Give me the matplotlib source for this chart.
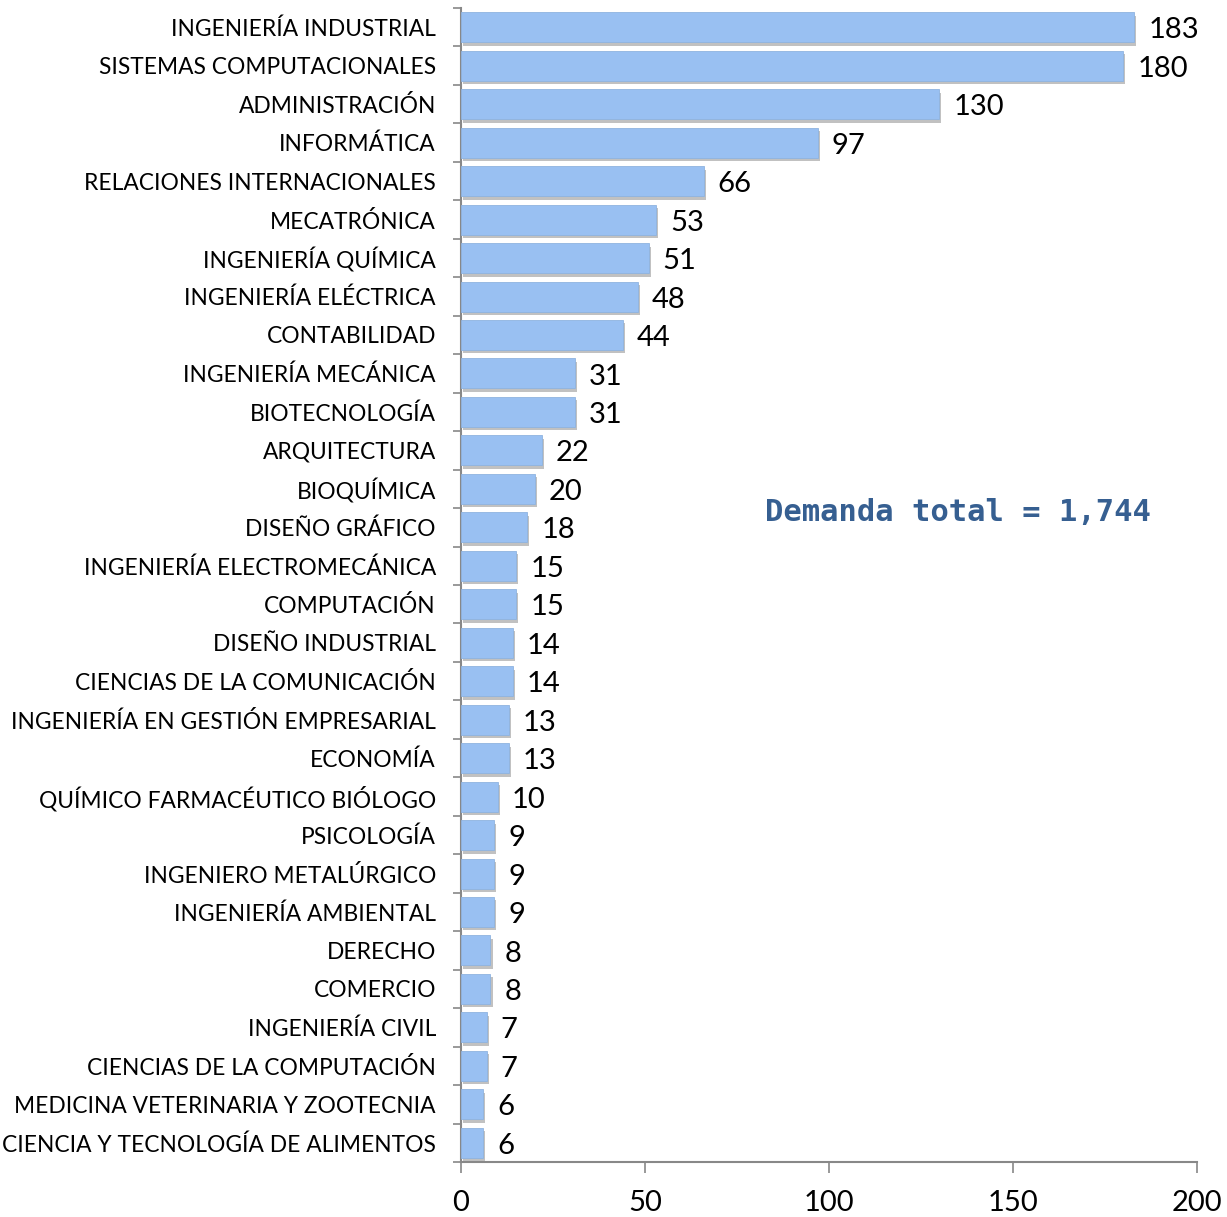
import numpy as np
import matplotlib.pyplot as plt
import matplotlib.patheffects as pe

carreras = [
    "INGENIERÍA INDUSTRIAL", "SISTEMAS COMPUTACIONALES", "ADMINISTRACIÓN",
    "INFORMÁTICA", "RELACIONES INTERNACIONALES", "MECATRÓNICA",
    "INGENIERÍA QUÍMICA", "INGENIERÍA ELÉCTRICA", "CONTABILIDAD",
    "INGENIERÍA MECÁNICA", "BIOTECNOLOGÍA", "ARQUITECTURA", "BIOQUÍMICA",
    "DISEÑO GRÁFICO", "INGENIERÍA ELECTROMECÁNICA", "COMPUTACIÓN",
    "DISEÑO INDUSTRIAL", "CIENCIAS DE LA COMUNICACIÓN",
    "INGENIERÍA EN GESTIÓN EMPRESARIAL", "ECONOMÍA",
    "QUÍMICO FARMACÉUTICO BIÓLOGO", "PSICOLOGÍA", "INGENIERO METALÚRGICO",
    "INGENIERÍA AMBIENTAL", "DERECHO", "COMERCIO", "INGENIERÍA CIVIL",
    "CIENCIAS DE LA COMPUTACIÓN", "MEDICINA VETERINARIA Y ZOOTECNIA",
    "CIENCIA Y TECNOLOGÍA DE ALIMENTOS",
]
demanda = [183, 180, 130, 97, 66, 53, 51, 48, 44, 31, 31, 22, 20, 18, 15,
           15, 14, 14, 13, 13, 10, 9, 9, 9, 8, 8, 7, 7, 6, 6]
x_ticks = [0, 50, 100, 150, 200]
total_txt = "Demanda total = 1,744"

plt.rcParams['font.family'] = ['Lato', 'DejaVu Sans']

fig = plt.figure(figsize=(12.27, 12.17), dpi=100)
ax = fig.add_axes([0.3757, 0.0452, 0.5998, 0.9482])

y = np.arange(len(carreras))
bars = ax.barh(y, demanda, height=0.78, color='#99c0f2', edgecolor='#8fb3e0',
               linewidth=0.6, zorder=3)
for b in bars:
    b.set_path_effects([pe.SimplePatchShadow(offset=(1.5, -2.5), shadow_rgbFace='#999999', alpha=0.6),
                        pe.Normal()])

for yi, v in zip(y, demanda):
    ax.text(v + 3.8, yi + 0.08, str(v), va='center', ha='left', fontsize=21,
            color='black')

ax.set_ylim(len(carreras) - 0.5, -0.5)
ax.set_xlim(0, 200)
ax.set_yticks(y)
ax.set_yticklabels(carreras, fontsize=16.4)
ax.set_yticks(np.arange(len(carreras) + 1) - 0.5, minor=True)
ax.tick_params(axis='y', which='major', length=0, pad=18)
ax.tick_params(axis='y', which='minor', length=6, color='#888888', width=1.2)
ax.set_xticks(x_ticks)
ax.tick_params(axis='x', length=8, color='#888888', width=1.2, labelsize=21, pad=12)

for s in ['top', 'right']:
    ax.spines[s].set_visible(False)
for s in ['left', 'bottom']:
    ax.spines[s].set_color('#888888')
    ax.spines[s].set_linewidth(1.5)

ax.text(0.675, 0.563, total_txt, transform=ax.transAxes, ha='center', va='center',
        fontsize=22, fontweight='bold', color='#365f91', family='DejaVu Sans Mono')

fig.savefig('out.png', dpi=100)
